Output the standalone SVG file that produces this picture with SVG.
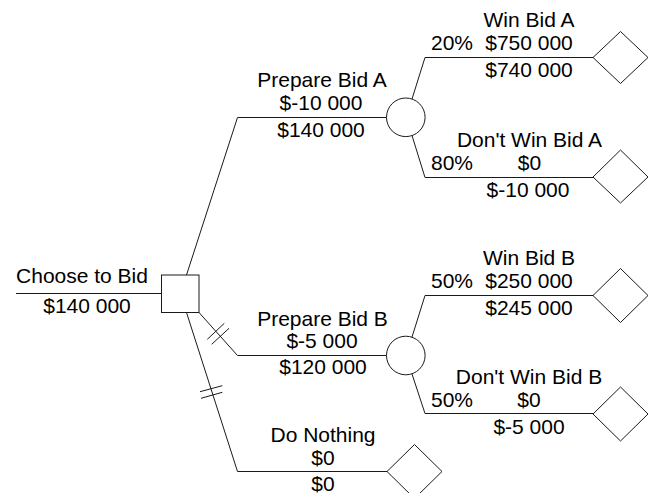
<svg xmlns="http://www.w3.org/2000/svg" width="651" height="493" viewBox="0 0 651 493">
<style>
text{font-family:"Liberation Sans",Arial,sans-serif;font-size:21px;fill:#000;text-anchor:middle}
text.l{text-anchor:start}
.c path,.c line{fill:none;stroke:#1a1a1a;stroke-width:1}
.n{fill:#fff;stroke:#1a1a1a;stroke-width:1}
</style>
<rect width="651" height="493" fill="#fff"/>
<g class="c" id="connectors">
<path d="M16 293.5H161.5"/>
<path d="M186.5 275L237.5 117.5H386.5"/>
<path d="M199 312.5L237.5 355.5H386.5"/>
<path d="M186.5 312.5L237.5 471.5H387"/>
<path d="M412 99L425 57.5H593"/>
<path d="M412 135.5L425 177.5H593"/>
<path d="M412 337L425 295.5H593"/>
<path d="M412 374L425 413.5H593"/>
<line x1="207.3" y1="339.3" x2="224.3" y2="323.3"/>
<line x1="211.7" y1="344.3" x2="229" y2="328.3"/>
<line x1="200" y1="391.7" x2="222.3" y2="385.7"/>
<line x1="201" y1="398.3" x2="222.3" y2="392.3"/>
</g>
<g id="choose">
<rect class="n" x="161.5" y="275" width="37.5" height="37.5"/>
<text x="82" y="283">Choose to Bid</text>
<text x="87" y="313">$140 000</text>
</g>
<g id="bidA">
<circle class="n" cx="405.8" cy="117.3" r="19.3"/>
<text x="322" y="87">Prepare Bid A</text>
<text x="321" y="110">$-10 000</text>
<text x="321" y="137">$140 000</text>
</g>
<g id="bidB">
<circle class="n" cx="405.8" cy="355.5" r="19.3"/>
<text x="322.5" y="326">Prepare Bid B</text>
<text x="322" y="348">$-5 000</text>
<text x="323" y="374">$120 000</text>
</g>
<g id="winA">
<polygon class="n" points="593,57.5 620.5,31.5 648,57.5 620.5,83.5"/>
<text x="529" y="27">Win Bid A</text>
<text class="l" x="431" y="50">20%</text>
<text x="529" y="50">$750 000</text>
<text x="529" y="77">$740 000</text>
</g>
<g id="loseA">
<polygon class="n" points="593,177 620.5,150 648,177 620.5,203"/>
<text x="529.5" y="147">Don't Win Bid A</text>
<text class="l" x="431" y="170">80%</text>
<text x="529.5" y="170">$0</text>
<text x="528" y="197">$-10 000</text>
</g>
<g id="winB">
<polygon class="n" points="593,295.5 620.5,268.5 648,295.5 620.5,322.5"/>
<text x="529" y="265">Win Bid B</text>
<text class="l" x="431" y="288">50%</text>
<text x="529" y="288">$250 000</text>
<text x="529" y="315">$245 000</text>
</g>
<g id="loseB">
<polygon class="n" points="593,414 620.5,387 648,414 620.5,441"/>
<text x="529" y="384">Don't Win Bid B</text>
<text class="l" x="431" y="407">50%</text>
<text x="529" y="407">$0</text>
<text x="529" y="434">$-5 000</text>
</g>
<g id="nothing">
<polygon class="n" points="387,471.5 414.5,444.5 442,471.5 414.5,498.5"/>
<text x="323" y="442">Do Nothing</text>
<text x="323" y="465">$0</text>
<text x="323" y="491">$0</text>
</g>
</svg>
